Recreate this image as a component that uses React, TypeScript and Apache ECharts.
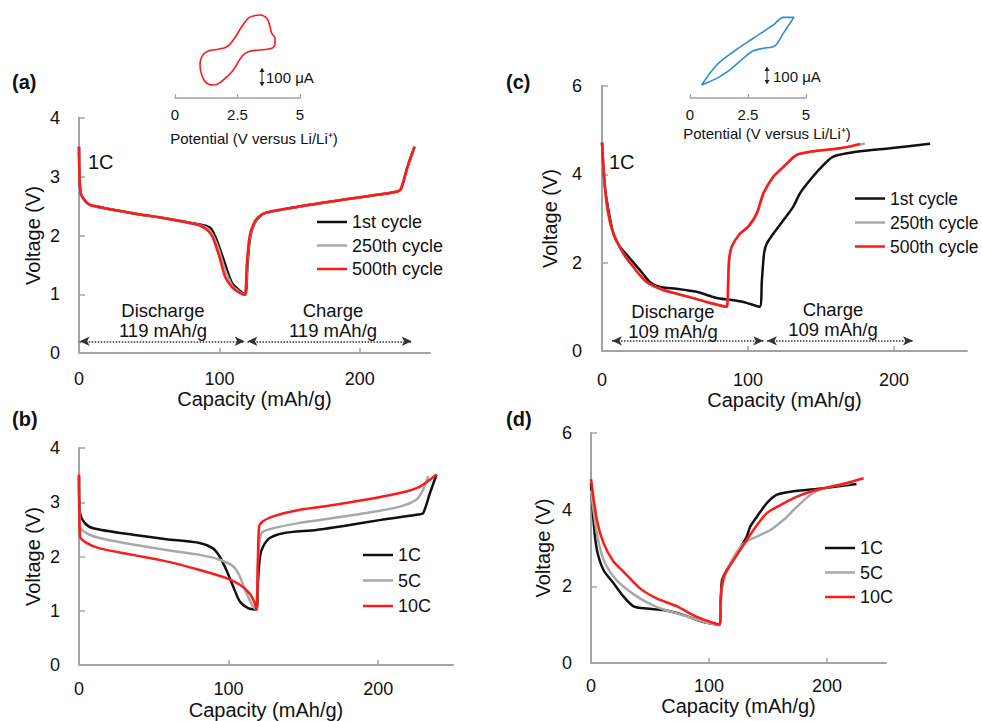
import React, { useEffect, useRef } from "react";
import * as echarts from "echarts";

const FONT = "'Liberation Sans', Arial, Helvetica, sans-serif";
const AXIS_GRAY = "#a3a3a3";
const TXT = "#111111";
const BLACK = "#111111";
const GRAY = "#a8a8a8";
const RED = "#ff1a1a";
const BLUE = "#2f8ad8";

// ---------- Panel (a): 1C, cycles ----------
const aNames = ["1st cycle", "250th cycle", "500th cycle"];
const aBlackX = [0, 1, 4, 8, 38, 62, 85, 91, 94, 98, 103, 109, 115, 118.5, 120, 121.5, 123, 126.6, 132.5, 156, 180, 203, 227, 229.5, 234, 239];
const aBlackY = [3.51, 2.75, 2.6, 2.52, 2.38, 2.29, 2.19, 2.16, 2.12, 1.93, 1.59, 1.19, 1.05, 0.99, 1.5, 1.9, 2.08, 2.27, 2.38, 2.49, 2.58, 2.66, 2.75, 2.8, 3.17, 3.51];
const aGrayX = [0, 1, 4, 8, 38, 62, 85, 91, 94.5, 99, 103.5, 109, 114.5, 118.2, 119.7, 121.2, 122.8, 126.3, 132.3, 156, 180, 203, 227, 229.5, 234, 239];
const aGrayY = [3.51, 2.74, 2.6, 2.52, 2.38, 2.29, 2.185, 2.13, 2.04, 1.8, 1.45, 1.15, 1.04, 0.99, 1.5, 1.9, 2.08, 2.27, 2.38, 2.49, 2.58, 2.66, 2.75, 2.8, 3.17, 3.51];
const aRedX = [0, 1, 4, 8, 38, 62, 85, 91, 95, 100, 104, 109, 114, 118, 119.5, 121, 122.5, 126, 132, 156, 180, 203, 227, 229.5, 234, 239];
const aRedY = [3.51, 2.74, 2.6, 2.52, 2.38, 2.29, 2.18, 2.1, 1.98, 1.64, 1.3, 1.12, 1.03, 0.99, 1.5, 1.9, 2.08, 2.27, 2.38, 2.49, 2.58, 2.66, 2.75, 2.8, 3.17, 3.51];
const aDischargeArrow = [0.5, 118];
const aChargeArrow = [120, 237];
const aArrowV = 0.2;

// ---------- Panel (b): rates ----------
const bNames = ["1C", "5C", "10C"];
const b1X = [0, 0.7, 3.8, 9.4, 36, 58.4, 80.7, 89.6, 94, 98.5, 103, 107.5, 113, 118.6, 119.7, 121, 123, 127.5, 136.5, 158.8, 181, 203, 225.6, 230, 234.6, 239];
const b1Y = [3.48, 2.8, 2.62, 2.52, 2.4, 2.32, 2.25, 2.15, 2.0, 1.75, 1.45, 1.17, 1.05, 1.02, 1.57, 2.0, 2.18, 2.34, 2.43, 2.49, 2.58, 2.68, 2.77, 2.8, 3.17, 3.51];
const b5X = [0, 0.7, 5, 13.8, 36, 58.4, 80.7, 94, 103, 107.5, 112, 116.4, 118.6, 119.7, 122, 129.8, 147.6, 170, 192, 214.5, 225.6, 230, 233.4];
const b5Y = [3.5, 2.55, 2.43, 2.34, 2.22, 2.12, 2.03, 1.94, 1.82, 1.63, 1.32, 1.08, 1.02, 1.94, 2.43, 2.52, 2.62, 2.71, 2.8, 2.92, 3.05, 3.23, 3.48];
const b10X = [0, 0.7, 5, 13.8, 36, 58.4, 80.7, 98.5, 107.5, 114, 117.5, 118.6, 119.5, 120.4, 123, 129.8, 147.6, 170, 192, 214.5, 228, 239];
const b10Y = [3.51, 2.37, 2.25, 2.15, 2.03, 1.91, 1.75, 1.6, 1.48, 1.32, 1.14, 1.02, 1.8, 2.55, 2.65, 2.74, 2.86, 2.95, 3.05, 3.17, 3.29, 3.51];

// ---------- Panel (c): cycles ----------
const cBlackX = [0, 1.5, 3.2, 7.8, 12.3, 19.2, 26, 32.9, 39.7, 51, 64.8, 78.5, 87.7, 96.8, 108, 109.5, 111, 112.8, 117.4, 124.2, 131, 135.6, 142.5, 149.3, 158.4, 174.4, 197.3, 224.7];
const cBlackY = [4.72, 3.9, 3.42, 2.66, 2.36, 2.09, 1.83, 1.56, 1.45, 1.41, 1.34, 1.2, 1.16, 1.11, 1.0, 1.6, 2.21, 2.43, 2.66, 2.96, 3.27, 3.57, 3.87, 4.13, 4.4, 4.51, 4.59, 4.69];
const cGrayX = [0, 2, 4.3, 7.8, 14.6, 21.5, 30.6, 42, 60, 71.7, 85.6, 86.5, 87.2, 89, 94.8, 100.3, 106.2, 110.8, 117.7, 124.5, 133.6, 142.8, 163.5, 180];
const cGrayY = [4.72, 3.72, 3.11, 2.66, 2.21, 1.9, 1.56, 1.38, 1.22, 1.11, 1.0, 1.5, 2.06, 2.36, 2.66, 2.81, 3.11, 3.57, 3.95, 4.17, 4.44, 4.51, 4.59, 4.7];
const cRedX = [0, 2, 4.3, 7.8, 14.6, 21.5, 30.6, 42, 60, 71.7, 85.4, 86.3, 87, 88.8, 94.5, 100, 105.9, 110.5, 117.4, 124.2, 133.3, 142.5, 163, 176.7];
const cRedY = [4.72, 3.72, 3.11, 2.66, 2.21, 1.9, 1.56, 1.38, 1.22, 1.11, 1.0, 1.5, 2.06, 2.36, 2.66, 2.81, 3.11, 3.57, 3.95, 4.17, 4.44, 4.51, 4.59, 4.69];
const cDischargeArrow = [6.8, 110.5];
const cChargeArrow = [113, 213];
const cArrowV = 0.23;

// ---------- Panel (d): rates ----------
const d1X = [0, 2.3, 5, 10.7, 19.2, 27.7, 36, 47.5, 61.6, 78.5, 95.5, 109, 110, 111, 115, 123.7, 132, 135, 140.7, 149, 157.6, 169, 197, 225];
const d1Y = [4.69, 3.64, 2.95, 2.42, 2.08, 1.73, 1.48, 1.42, 1.38, 1.25, 1.07, 1.0, 1.6, 2.16, 2.42, 2.86, 3.3, 3.56, 3.82, 4.17, 4.39, 4.47, 4.56, 4.67];
const d5X = [0, 5, 10.7, 19.2, 27.7, 41.8, 56, 70, 84, 98.3, 109, 110, 111, 118, 129.4, 140.7, 152, 163, 174.6, 186, 197, 219.5];
const d5Y = [4.5, 3.38, 2.69, 2.25, 1.99, 1.68, 1.46, 1.32, 1.19, 1.05, 1.0, 1.5, 1.99, 2.6, 3.12, 3.3, 3.47, 3.73, 4.08, 4.39, 4.56, 4.69];
const d10X = [0, 5, 10.7, 19.2, 27.7, 41.8, 56, 73, 84, 95.5, 109, 110, 112.4, 121, 132, 140.7, 149, 160.5, 174.6, 191.5, 211, 231];
const d10Y = [4.8, 3.73, 3.12, 2.64, 2.38, 1.94, 1.68, 1.48, 1.29, 1.13, 1.0, 1.73, 2.25, 2.69, 3.21, 3.6, 3.91, 4.12, 4.34, 4.52, 4.65, 4.82];

// ---------- Insets: cyclic voltammograms (V vs µA) ----------
const cvAV = [3.13, 3.4, 3.67, 3.8, 3.87, 4.0, 4.0, 3.87, 3.4, 2.93, 2.67, 2.33, 1.93, 1.53, 1.27, 1.07, 1.0, 1.07, 1.27, 1.73, 2.07, 2.33, 2.67, 2.93, 3.13];
const cvAI = [206, 211, 193, 146, 109, 82, 54, 26, 17, 7, -21, -94, -150, -178, -168, -122, -67, -21, 7, 21, 35, 72, 146, 193, 206];
const cvCV = [0.5, 1.15, 1.87, 2.73, 3.59, 4.02, 4.48, 4.02, 3.66, 3.16, 2.73, 2.37, 1.72, 1.15, 0.5];
const cvCI = [-178, -67, 7, 82, 156, 198, 198, 109, 39, 26, 13, -21, -94, -141, -178];
const xTicks = [0, 100, 200];
const cvTicks = [0, 2.5, 5];

const zip = (xs: number[], ys: number[]) => xs.map((x, i) => [x, ys[i]]);

const mainX = (gridIndex: number, margin: number, nameGap: number) => ({
  type: "value",
  gridIndex,
  min: 0,
  max: 250,
  name: "Capacity (mAh/g)",
  nameLocation: "middle",
  nameGap,
  nameTextStyle: { fontSize: 20, fontFamily: FONT, color: TXT },
  axisLine: { onZero: false, lineStyle: { color: AXIS_GRAY, width: 2 } },
  axisTick: { inside: true, length: 5, customValues: xTicks, lineStyle: { color: AXIS_GRAY, width: 1.5 } },
  axisLabel: { customValues: xTicks, margin, fontSize: 18, fontFamily: FONT, color: TXT },
  splitLine: { show: false },
});

const mainY = (gridIndex: number, max: number, interval: number, margin: number, nameGap: number) => ({
  type: "value",
  gridIndex,
  min: 0,
  max,
  interval,
  name: "Voltage (V)",
  nameLocation: "middle",
  nameGap,
  nameTextStyle: { fontSize: 20, fontFamily: FONT, color: TXT },
  axisLine: { show: true, onZero: false, lineStyle: { color: AXIS_GRAY, width: 2 } },
  axisTick: { show: true, inside: true, length: 6, lineStyle: { color: AXIS_GRAY, width: 1.5 } },
  axisLabel: { margin, fontSize: 18, fontFamily: FONT, color: TXT },
  splitLine: { show: false },
});

const insetX = (gridIndex: number) => ({
  type: "value",
  gridIndex,
  min: 0,
  max: 5,
  interval: 2.5,
  axisLine: { onZero: false, lineStyle: { color: AXIS_GRAY, width: 1.5 } },
  axisTick: { inside: true, length: 4, customValues: cvTicks, lineStyle: { color: AXIS_GRAY, width: 1.2 } },
  axisLabel: { customValues: cvTicks, margin: 9, fontSize: 15, fontFamily: FONT, color: TXT },
  splitLine: { show: false },
});

const insetY = (gridIndex: number) => ({
  type: "value",
  gridIndex,
  min: -250,
  max: 250,
  show: false,
});

const line = (name: string, idx: number, data: number[][], color: string, extra: any = {}) => ({
  type: "line",
  name,
  xAxisIndex: idx,
  yAxisIndex: idx,
  data,
  symbol: "none",
  smooth: 0.25,
  lineStyle: { color, width: 2.5 },
  itemStyle: { color },
  emphasis: { disabled: true },
  ...extra,
});

const arrows = (d: number[], c: number[], v: number) => ({
  silent: true,
  symbol: ["arrow", "arrow"],
  symbolSize: [7, 10],
  label: { show: false },
  emphasis: { disabled: true },
  lineStyle: { type: "dotted", color: "#333", width: 1.5 },
  data: [
    [{ coord: [d[0], v] }, { coord: [d[1], v] }],
    [{ coord: [c[0], v] }, { coord: [c[1], v] }],
  ],
});

const legend = (data: string[], left: number, top: number, itemGap: number, fontSize = 18) => ({
  data,
  orient: "vertical",
  left,
  top,
  padding: 0,
  icon: "rect",
  itemWidth: 30,
  itemHeight: 2.5,
  itemGap,
  selectedMode: false,
  textStyle: { fontSize, fontFamily: FONT, color: TXT },
});

const txt = (text: string, x: number, y: number, size: number, extra: any = {}) => ({
  type: "text",
  x,
  y,
  silent: true,
  style: {
    text,
    fill: TXT,
    fontSize: size,
    fontFamily: FONT,
    align: "left",
    verticalAlign: "middle",
    ...extra,
  },
});

const scaleBar = (x: number, y0: number, y1: number) => [
  { type: "line", silent: true, shape: { x1: x, y1: y0 + 3, x2: x, y2: y1 - 3 }, style: { stroke: "#222", lineWidth: 1 } },
  { type: "polygon", silent: true, shape: { points: [[x - 2.5, y0 + 4.5], [x, y0], [x + 2.5, y0 + 4.5]] }, style: { fill: "#222" } },
  { type: "polygon", silent: true, shape: { points: [[x - 2.5, y1 - 4.5], [x, y1], [x + 2.5, y1 - 4.5]] }, style: { fill: "#222" } },
];

export default function App() {
  const ref = useRef<HTMLDivElement>(null);
  useEffect(() => {
    const chart = echarts.init(ref.current!, null, { renderer: "svg" });
    const option: any = {
      animation: false,
      backgroundColor: "#ffffff",
      grid: [
        { left: 79, top: 118, width: 351, height: 235 },
        { left: 79, top: 448, width: 374, height: 217 },
        { left: 602, top: 86, width: 365, height: 265 },
        { left: 591, top: 433, width: 295, height: 230 },
        { left: 175, top: 8, width: 125, height: 90 },
        { left: 690, top: 8, width: 116, height: 90 },
      ],
      xAxis: [mainX(0, 17, 35), mainX(1, 15, 35), mainX(2, 20, 39), mainX(3, 14, 30), insetX(4), insetX(5)],
      yAxis: [mainY(0, 4, 1, 19, 36), mainY(1, 4, 1, 19, 36), mainY(2, 6, 2, 20, 42), mainY(3, 6, 2, 19, 38), insetY(4), insetY(5)],
      legend: [
        legend(aNames, 317, 213, 5.5),
        legend(bNames, 363, 546, 7.5),
        legend(aNames, 855, 189.5, 6, 17.5),
        legend(bNames, 825, 539, 6.5),
      ],
      series: [
        line(aNames[0], 0, zip(aBlackX, aBlackY), BLACK, { markLine: arrows(aDischargeArrow, aChargeArrow, aArrowV) }),
        line(aNames[1], 0, zip(aGrayX, aGrayY), GRAY),
        line(aNames[2], 0, zip(aRedX, aRedY), RED),
        line(bNames[0], 1, zip(b1X, b1Y), BLACK),
        line(bNames[1], 1, zip(b5X, b5Y), GRAY),
        line(bNames[2], 1, zip(b10X, b10Y), RED),
        line(aNames[0], 2, zip(cBlackX, cBlackY), BLACK, { markLine: arrows(cDischargeArrow, cChargeArrow, cArrowV) }),
        line(aNames[1], 2, zip(cGrayX, cGrayY), GRAY),
        line(aNames[2], 2, zip(cRedX, cRedY), RED),
        line(bNames[0], 3, zip(d1X, d1Y), BLACK),
        line(bNames[1], 3, zip(d5X, d5Y), GRAY),
        line(bNames[2], 3, zip(d10X, d10Y), RED),
        line("CV a", 4, zip(cvAV, cvAI), RED, { smooth: 0.5, lineStyle: { color: RED, width: 1.6 } }),
        line("CV c", 5, zip(cvCV, cvCI), BLUE, { smooth: 0.3, lineStyle: { color: BLUE, width: 1.6 } }),
      ],
      graphic: [
        txt("(a)", 12, 82, 20, { fontWeight: "bold" }),
        txt("(b)", 12, 419, 20, { fontWeight: "bold" }),
        txt("(c)", 506, 82, 20, { fontWeight: "bold" }),
        txt("(d)", 506, 419, 20, { fontWeight: "bold" }),
        txt("1C", 88, 162, 20),
        txt("1C", 609, 162, 20),
        txt("Discharge\n119 mAh/g", 163, 320, 18.5, { align: "center", lineHeight: 20 }),
        txt("Charge\n119 mAh/g", 333, 320, 18.5, { align: "center", lineHeight: 20 }),
        txt("Discharge\n109 mAh/g", 673, 321, 18.5, { align: "center", lineHeight: 20 }),
        txt("Charge\n109 mAh/g", 833, 319, 18.5, { align: "center", lineHeight: 20 }),
        txt("Potential (V versus Li/Li\u207A)", 254, 138, 15, { align: "center" }),
        txt("Potential (V versus Li/Li\u207A)", 767, 133, 15, { align: "center" }),
        txt("100 \u03BCA", 266, 77.5, 15),
        txt("100 \u03BCA", 773, 76.5, 15),
        ...scaleBar(262, 67.5, 86.5),
        ...scaleBar(767, 66.5, 84.5),
      ],
    };
    chart.setOption(option);
    return () => chart.dispose();
  }, []);
  return (
    <div
      ref={ref}
      style={{ position: "absolute", left: 0, top: 0, width: 982, height: 721, background: "#fff" }}
    />
  );
}
